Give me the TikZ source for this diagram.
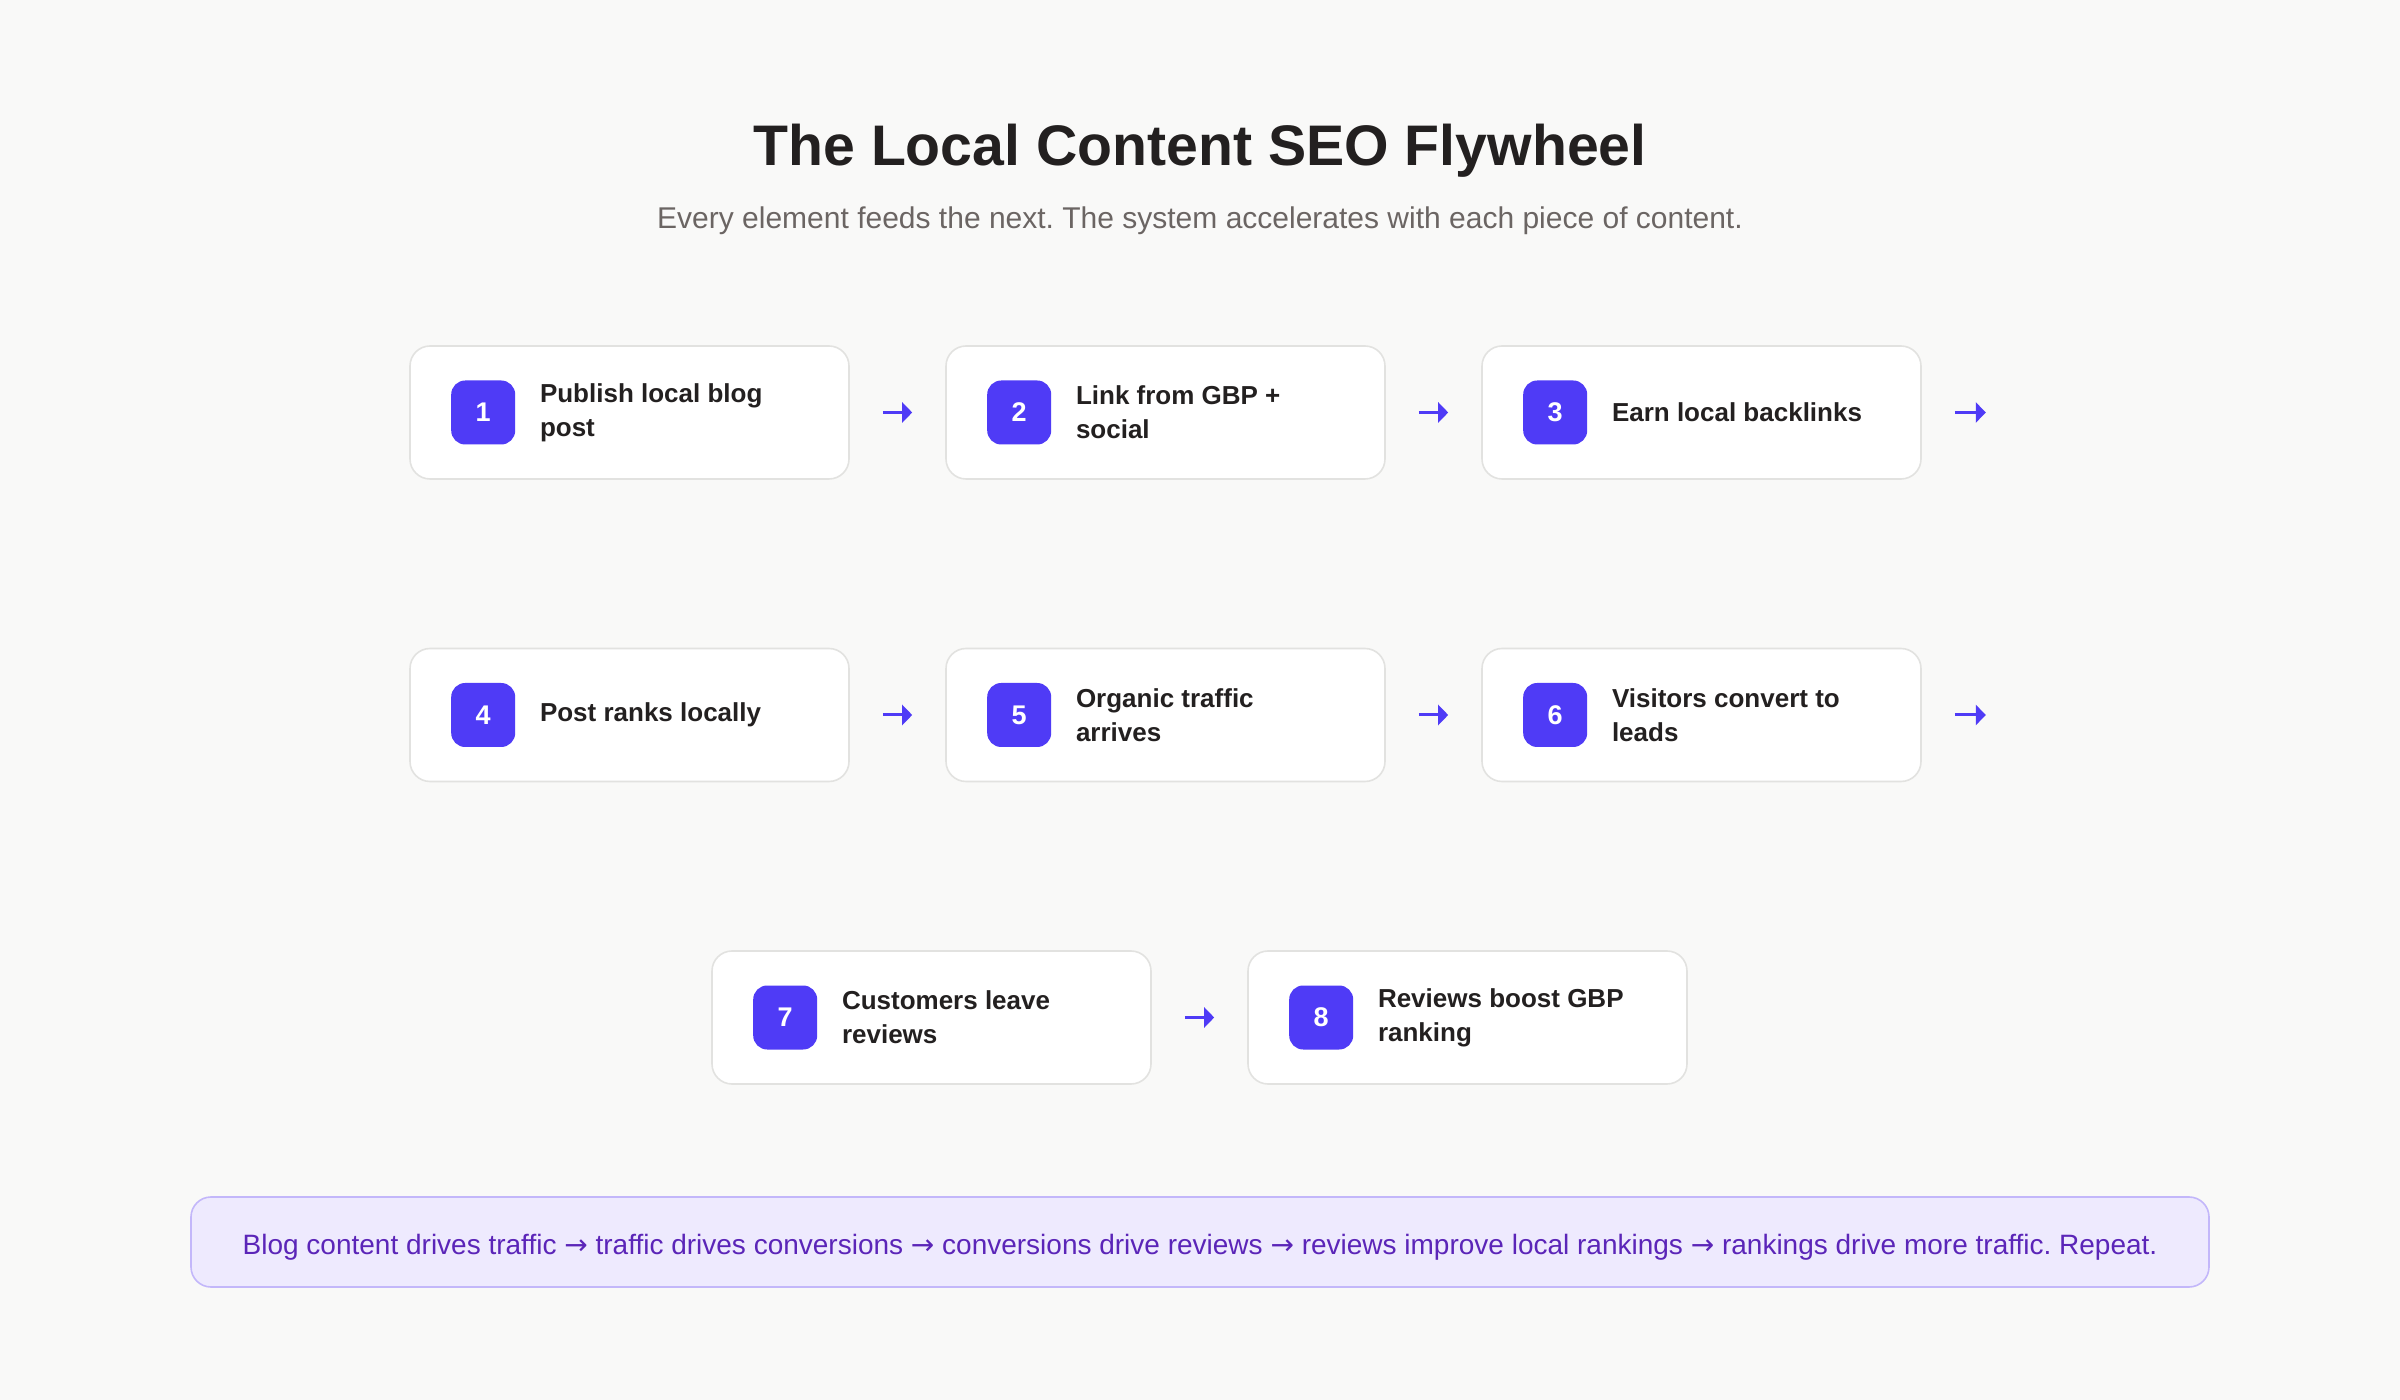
\documentclass[tikz,border=0pt]{standalone}
\usepackage{fontspec}
\setmainfont{Liberation Sans}
\newfontfamily\arrowfont{DejaVu Sans}
\usetikzlibrary{arrows.meta}
\frenchspacing
\definecolor{bgcol}{HTML}{F9F9F8}
\definecolor{edgecol}{HTML}{E2E2E0}
\definecolor{badgecol}{HTML}{4F3BF6}
\definecolor{inkcol}{HTML}{232020}
\definecolor{subcol}{HTML}{6B6563}
\definecolor{notefill}{HTML}{EEEAFE}
\definecolor{noteedge}{HTML}{C3B7FA}
\definecolor{notetext}{HTML}{5B25B8}

\begin{document}
\begin{tikzpicture}[x=0.5pt,y=-0.5pt,
	card/.style={draw=edgecol,line width=0.8pt,fill=white,rounded corners=10pt,minimum width=219.5pt,minimum height=66.5pt},
	badge/.style={fill=badgecol,rounded corners=7pt,minimum size=32pt,inner sep=0pt,text=white,font=\bfseries\fontsize{13.5}{15}\selectfont},
	label/.style={anchor=west,align=left,text=inkcol,inner sep=0pt,font=\bfseries\fontsize{13}{17}\selectfont},
	flow/.style={draw=badgecol,line width=1.5pt,-{Triangle[length=5pt,width=10pt]},shorten <=16.5pt,shorten >=16.5pt},
	note/.style={draw=noteedge,line width=0.8pt,fill=notefill,rounded corners=10pt,minimum width=1009pt,minimum height=45pt,text=notetext,font=\fontsize{14}{16}\selectfont}]
	\fill[bgcol] (0,0) rectangle (2400,1400);
	\useasboundingbox (0,0) rectangle (2400,1400);

	\node[anchor=base,text=inkcol,font=\bfseries\fontsize{28.6}{32}\selectfont] (title) at (1200,166) {The Local Content SEO Flywheel};
	\node[anchor=base,text=subcol,font=\fontsize{15}{17}\selectfont] (sub) at (1200,229) {Every element feeds the next. The system accelerates with each piece of content.};

	\foreach \n/\x/\y/\txt in {1/629.5/412.5/{Publish local blog\\post},2/1165.5/412.5/{Link from GBP +\\social},3/1701.5/412.5/{Earn local backlinks},
		4/629.5/715/{Post ranks locally},5/1165.5/715/{Organic traffic\\arrives},6/1701.5/715/{Visitors convert to\\leads},
		7/931.5/1017.5/{Customers leave\\reviews},8/1467.5/1017.5/{Reviews boost GBP\\ranking}} {
		\node[card] (b\n) at (\x,\y) {};
		\node[badge] (n\n) at ([xshift=37pt]b\n.west) {\n};
		\node[label] (t\n) at ([xshift=12pt]n\n.east) {\txt};
	}

	\foreach \a/\b in {1/2,2/3,4/5,5/6,7/8} { \draw[flow] (b\a.east) -- (b\b.west);}
	\foreach \a in {3,6} { \coordinate (e\a) at ([xshift=48.5pt]b\a.east); \draw[flow] (b\a.east) -- (e\a);}

	\node[note] (loop) at (1200,1242) {};
	\node[text=notetext,font=\fontsize{14}{16}\selectfont] (looptext) at ([yshift=-2.5pt]loop.center) {Blog content drives traffic {\arrowfont →} traffic drives conversions {\arrowfont →} conversions drive reviews {\arrowfont →} reviews improve local rankings {\arrowfont →} rankings drive more traffic. Repeat.};
\end{tikzpicture}
\end{document}
